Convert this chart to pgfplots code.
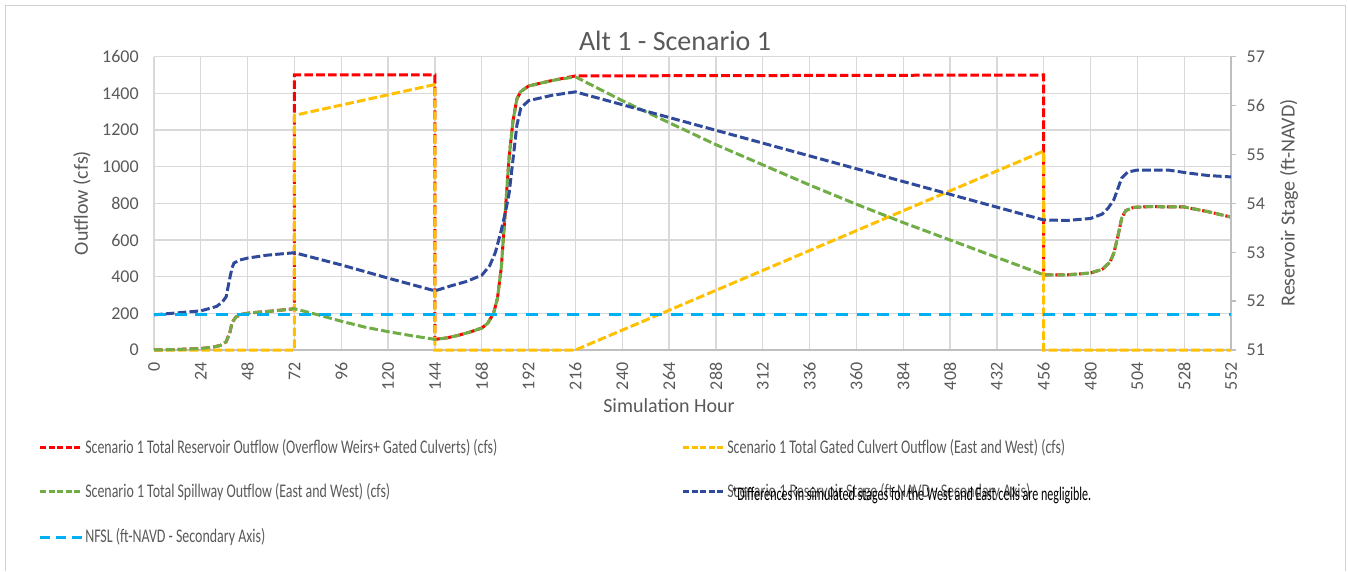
\documentclass[border=0pt]{standalone}
\usepackage{fontspec}
\setmainfont{Carlito}
\usepackage{graphicx}
\usepackage{pgfplots}
\pgfplotsset{compat=1.18}
\definecolor{txtgray}{HTML}{595959}
\definecolor{gridgray}{HTML}{D9D9D9}
\definecolor{axgray}{HTML}{BFBFBF}
\definecolor{cred}{HTML}{FF0000}
\definecolor{cyel}{HTML}{FFC000}
\definecolor{cgrn}{HTML}{70AD47}
\definecolor{cblu}{HTML}{2F4A9A}
\definecolor{clbl}{HTML}{00B0F0}
\tikzset{
  sdash/.style={line width=2.25pt, dash pattern=on 6.5pt off 2.4pt},
  ldash/.style={line width=2.25pt, dash pattern=on 9pt off 6.5pt},
  lsd/.style={line width=2.25pt, dash pattern=on 4.5pt off 1.9pt},
  lld/.style={line width=2.25pt, dash pattern=on 7.5pt off 4.5pt},
}
\newlength\fitlen
\newcommand\fitw[2]{\settowidth\fitlen{#2}\scalebox{\fpeval{#1*0.75/\fitlen}}[1]{#2}}

% spillway outflow (cfs)
\pgfplotstableread{
x y
0 0
12 3
24 8
30 15
34 25
37 45
39 100
40 150
42 180
45 195
49 202
60 212
72 225
84 192
96 157
108 125
120 100
132 78
144 58
150 66
156 80
162 98
168 120
171 145
174 200
176 280
178 450
180 750
182 1050
184 1250
186 1370
188 1410
192 1440
204 1470
216 1490
240 1360
264 1240
288 1120
312 1010
336 900
360 795
384 695
408 600
432 505
456 410
468 410
480 420
486 440
490 480
492 530
494 620
496 720
498 760
502 778
510 782
528 780
540 755
552 725
}\spill

% total reservoir outflow (cfs)
\pgfplotstableread{
x y
0 0
12 3
24 8
30 15
34 25
37 45
39 100
40 150
42 180
45 195
49 202
60 212
72 225
72 1500
144 1500
144 58
150 66
156 80
162 98
168 120
171 145
174 200
176 280
178 450
180 750
182 1050
184 1250
186 1370
188 1410
192 1440
204 1470
216 1495
456 1500
456 410
468 410
480 420
486 440
490 480
492 530
494 620
496 720
498 760
502 778
510 782
528 780
540 755
552 725
}\total

% gated culvert outflow (cfs)
\pgfplotstableread{
x y
0 0
72 0
72 1280
144 1448
144 0
216 0
456 1085
456 0
552 0
}\gated

% reservoir stage (ft-NAVD)
\pgfplotstableread{
x y
0 51.72
12 51.76
24 51.80
32 51.89
35 51.98
37 52.09
38 52.30
39 52.50
40 52.68
41 52.78
44 52.84
48 52.88
58 52.94
72 52.99
96 52.74
120 52.47
144 52.21
152 52.31
160 52.40
168 52.53
172 52.72
175 53.00
178 53.45
180 53.80
182 54.20
184 54.90
186 55.60
188 55.95
192 56.10
204 56.21
216 56.28
456 53.66
468 53.65
480 53.69
486 53.78
489 53.90
492 54.08
494 54.30
496 54.52
499 54.64
504 54.68
520 54.68
530 54.62
540 54.57
552 54.54
}\stage

% NFSL (ft-NAVD)
\pgfplotstableread{
x y
0 51.72
552 51.72
}\nfsl

\begin{document}
\begin{tikzpicture}[x=0.75pt,y=-0.75pt]
\path (0,0) rectangle (1348,571);
\draw[axgray!70, line width=0.75pt] (5,571)--(5,6)--(1345,6)--(1345,571);

\begin{axis}[
  scale only axis, width=807.75pt, height=220pt,
  at={(115.5pt,-262.5pt)}, anchor=south west,
  xmin=0, xmax=552, ymin=0, ymax=1600,
  xtick={0,24,48,72,96,120,144,168,192,216,240,264,288,312,336,360,384,408,432,456,480,504,528,552},
  ytick={0,200,400,600,800,1000,1200,1400,1600},
  grid=major, major grid style={gridgray, line width=1pt},
  axis x line*=bottom, axis y line*=left,
  x axis line style={axgray, line width=1pt, -},
  y axis line style={gridgray, line width=1pt, -},
  major tick length=0pt,
  ticklabel style={font=\fontsize{13.5}{16}\selectfont, text=txtgray},
  xticklabel style={rotate=90, anchor=east},
  xticklabel shift=6pt, yticklabel shift=8pt,
  /pgf/number format/assume math mode=true,
  scaled ticks=false, /pgf/number format/1000 sep={},
  clip=false,
]
\addplot[cred, sdash] table {\total};
\addplot[cyel, sdash] table {\gated};
\addplot[cgrn, sdash] table {\spill};
\end{axis}

\begin{axis}[
  scale only axis, width=807.75pt, height=220pt,
  at={(115.5pt,-262.5pt)}, anchor=south west,
  xmin=0, xmax=552, ymin=51, ymax=57,
  axis y line*=right, axis x line=none,
  y axis line style={axgray, line width=1pt, -},
  ytick={51,52,53,54,55,56,57},
  tick align=outside, major tick length=3.75pt,
  ytick style={axgray, line width=1pt},
  ticklabel style={font=\fontsize{13.5}{16}\selectfont, text=txtgray},
  yticklabel shift=4.5pt,
  /pgf/number format/assume math mode=true,
  clip=false,
]
\addplot[cblu, sdash] table {\stage};
\addplot[clbl, ldash] table {\nfsl};
\end{axis}

% titles and axis labels
\node[anchor=base, inner sep=0, text=txtgray, font=\fontsize{21}{24}\selectfont] at (675,51) {Alt 1 - Scenario 1};
\node[anchor=base, inner sep=0, text=txtgray, font=\fontsize{15}{18}\selectfont] at (669,412) {Simulation Hour};
\node[rotate=90, inner sep=0, text=txtgray, font=\fontsize{15}{18}\selectfont] at (82,203) {Outflow (cfs)};
\node[rotate=90, inner sep=0, text=txtgray, font=\fontsize{15}{18}\selectfont] at (1289,203) {Reservoir Stage (ft-NAVD)};

% legend
\draw[cred, lsd] (40,447) -- (82,447);
\node[anchor=base west, inner sep=0, text=txtgray, font=\fontsize{14.5}{16}\selectfont] at (85,453) {\fitw{412}{Scenario 1 Total Reservoir Outflow (Overflow Weirs+ Gated Culverts) (cfs)}};
\draw[cyel, lsd] (683,447) -- (723,447);
\node[anchor=base west, inner sep=0, text=txtgray, font=\fontsize{14.5}{16}\selectfont] at (727,453) {\fitw{338}{Scenario 1 Total Gated Culvert Outflow (East and West) (cfs)}};
\draw[cgrn, lsd] (40,491) -- (82,491);
\node[anchor=base west, inner sep=0, text=txtgray, font=\fontsize{14.5}{16}\selectfont] at (85,497) {\fitw{305}{Scenario 1 Total Spillway Outflow (East and West) (cfs)}};
\draw[cblu, lsd] (683,491) -- (723,491);
\node[anchor=base west, inner sep=0, text=txtgray, font=\fontsize{14.5}{16}\selectfont] at (727,497) {\fitw{303}{Scenario 1 Reservoir Stage (ft-NAVD - Secondary Axis)}};
\draw[clbl, lld] (40,537) -- (82,537);
\node[anchor=base west, inner sep=0, text=txtgray, font=\fontsize{14.5}{16}\selectfont] at (85,542) {\fitw{180}{NFSL (ft-NAVD - Secondary Axis)}};
% footnote
\node[anchor=base west, inner sep=0, text=black, font=\fontsize{14.5}{16}\selectfont] at (731,500) {\fitw{360}{*Differences in simulated stages for the West and East cells are negligible.}};
\end{tikzpicture}
\end{document}
